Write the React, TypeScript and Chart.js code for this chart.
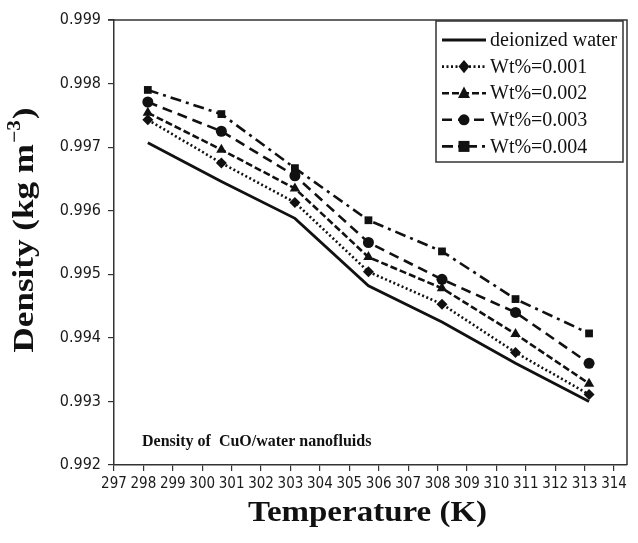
import React, { useEffect, useRef } from "react";
import { Chart, registerables } from "chart.js";

Chart.register(...registerables);

// ---- data ----
const temperatures = [298.15, 300.65, 303.15, 305.65, 308.15, 310.65, 313.15];
const deionizedWater = [0.99707, 0.99646, 0.99588, 0.99482, 0.99425, 0.9936, 0.993];
const wt001 = [0.99743, 0.99675, 0.99613, 0.99504, 0.99453, 0.99377, 0.99311];
const wt002 = [0.99754, 0.99696, 0.99635, 0.99527, 0.99478, 0.99406, 0.99328];
const wt003 = [0.99771, 0.99725, 0.99655, 0.9955, 0.99492, 0.9944, 0.9936];
const wt004 = [0.9979, 0.99752, 0.99667, 0.99585, 0.99536, 0.99461, 0.99407];
const seriesLabels = ["deionized water", "Wt%=0.001", "Wt%=0.002", "Wt%=0.003", "Wt%=0.004"];
const xTickMin = 297;
const xTickMax = 314;
const yTickMin = 0.992;
const yTickMax = 0.999;
const xTitle = "Temperature (K)";
const yTitleMain = "Density (kg m";
const yTitleSup = "\u22123";
const yTitleEnd = ")";
const annotationText = "Density of  CuO/water nanofluids";

const INK = "#111";
const AXIS = "#333";
const TICK_FONT = "'DejaVu Sans Condensed', Roboto, sans-serif";
const SERIF = "'Liberation Serif', 'Times New Roman', serif";

function drawMarker(ctx: CanvasRenderingContext2D, style: string, x: number, y: number, r: number) {
  ctx.save();
  ctx.fillStyle = INK;
  ctx.beginPath();
  if (style === "circle") {
    ctx.arc(x, y, r, 0, Math.PI * 2);
  } else if (style === "rect") {
    ctx.rect(x - r, y - r, 2 * r, 2 * r);
  } else if (style === "rectRot") {
    ctx.moveTo(x, y - r * 1.2);
    ctx.lineTo(x + r, y);
    ctx.lineTo(x, y + r * 1.2);
    ctx.lineTo(x - r, y);
    ctx.closePath();
  } else if (style === "triangle") {
    ctx.moveTo(x, y - r * 1.1);
    ctx.lineTo(x + r, y + r * 0.8);
    ctx.lineTo(x - r, y + r * 0.8);
    ctx.closePath();
  }
  if (style !== "none") ctx.fill();
  ctx.restore();
}

const framePlugin = {
  id: "frame",
  afterDraw(chart: any) {
    const { ctx, chartArea } = chart;
    const { left, right, top, bottom } = chartArea;
    ctx.save();
    ctx.strokeStyle = AXIS;
    ctx.lineWidth = 1.5;
    ctx.beginPath();
    ctx.moveTo(left - 6, top);
    ctx.lineTo(right, top);
    ctx.lineTo(right, bottom);
    ctx.stroke();

    // annotation
    ctx.fillStyle = INK;
    ctx.font = `bold 16px ${SERIF}`;
    ctx.textBaseline = "middle";
    ctx.textAlign = "left";
    ctx.fillText(annotationText, left + 28, bottom - 23);

    // x title (slightly stretched, as in the original figure)
    ctx.save();
    ctx.font = `bold 30px ${SERIF}`;
    ctx.textBaseline = "middle";
    ctx.textAlign = "center";
    ctx.translate((left + right) / 2 - 3, 513);
    ctx.scale(1.1, 1);
    ctx.fillText(xTitle, 0, 0);
    ctx.restore();

    // y title with superscript
    ctx.save();
    ctx.translate(25, 230);
    ctx.rotate(-Math.PI / 2);
    const mainFont = `bold 30px ${SERIF}`;
    const supFont = `bold 18px ${SERIF}`;
    ctx.font = mainFont;
    const w1 = ctx.measureText(yTitleMain).width;
    const w3 = ctx.measureText(yTitleEnd).width;
    ctx.font = supFont;
    const w2 = ctx.measureText(yTitleSup).width + 2;
    const total = w1 + w2 + w3;
    const sx = 245 / total;
    ctx.scale(sx, 1);
    ctx.textBaseline = "middle";
    ctx.textAlign = "left";
    let cx = -total / 2;
    ctx.font = mainFont;
    ctx.fillText(yTitleMain, cx, 0);
    cx += w1 + 1;
    ctx.font = supFont;
    ctx.fillText(yTitleSup, cx, -10);
    cx += w2 - 1;
    ctx.font = mainFont;
    ctx.fillText(yTitleEnd, cx, 0);
    ctx.restore();

    // legend
    const boxRight = right - 4;
    const boxLeft = boxRight - 187;
    const boxTop = top + 1;
    const boxH = 141;
    ctx.fillStyle = "#fff";
    ctx.fillRect(boxLeft, boxTop, boxRight - boxLeft, boxH);
    ctx.strokeStyle = AXIS;
    ctx.lineWidth = 1.5;
    ctx.strokeRect(boxLeft, boxTop, boxRight - boxLeft, boxH);

    chart.data.datasets.forEach((ds: any, i: number) => {
      const y = boxTop + 19 + i * 26.6;
      const x1 = boxLeft + 6;
      const x2 = boxLeft + 50;
      ctx.save();
      ctx.strokeStyle = INK;
      ctx.lineWidth = ds.borderWidth;
      ctx.setLineDash(ds.borderDash || []);
      ctx.beginPath();
      ctx.moveTo(x1, y);
      ctx.lineTo(x2, y);
      ctx.stroke();
      ctx.restore();
      if (ds.pointRadius > 0) drawMarker(ctx, ds.pointStyle, (x1 + x2) / 2, y, ds.pointRadius);
      ctx.fillStyle = INK;
      ctx.font = `20px ${SERIF}`;
      ctx.textBaseline = "middle";
      ctx.textAlign = "left";
      ctx.fillText(ds.label, x2 + 4, y + 1);
    });
    ctx.restore();
  },
};

function toPoints(values: number[]) {
  return values.map((v, i) => ({ x: temperatures[i], y: v }));
}

export default function App() {
  const canvasRef = useRef<HTMLCanvasElement | null>(null);

  useEffect(() => {
    if (!canvasRef.current) return;
    const seriesValues = [deionizedWater, wt001, wt002, wt003, wt004];
    const dashes = [[], [2, 2.5], [7, 3], [10, 6], [11, 5, 3, 5]];
    const styles = ["circle", "rectRot", "triangle", "circle", "rect"];
    const radii = [0, 5.5, 6, 5.5, 5.5];
    const datasets = seriesValues.map((vals, i) => ({
      label: seriesLabels[i],
      data: toPoints(vals),
      borderColor: INK,
      backgroundColor: INK,
      borderWidth: i === 0 ? 2.8 : 2.6,
      borderDash: dashes[i],
      pointStyle: styles[i],
      pointRadius: radii[i],
      pointBorderWidth: 0,
      pointBackgroundColor: INK,
      tension: 0,
      fill: false,
    }));

    const chart = new Chart(canvasRef.current, {
      type: "line",
      data: { datasets },
      options: {
        animation: false,
        responsive: false,
        layout: { padding: { left: 0, top: 20, right: 11, bottom: 0 } },
        plugins: { legend: { display: false }, tooltip: { enabled: false } },
        scales: {
          x: {
            type: "linear",
            min: xTickMin,
            max: xTickMax + 0.44,
            afterBuildTicks: (scale: any) => {
              const t = [];
              for (let v = xTickMin; v <= xTickMax; v++) t.push({ value: v });
              scale.ticks = t;
            },
            afterFit: (scale: any) => {
              scale.height = 78;
            },
            border: { display: true, color: AXIS, width: 1.5 },
            grid: { display: true, drawOnChartArea: false, drawTicks: true, tickLength: 6, color: AXIS, lineWidth: 1.2 },
            ticks: {
              color: "#1a1a1a",
              font: { family: TICK_FONT, size: 15 },
              padding: 4,
              maxRotation: 0,
              autoSkip: false,
              callback: (v: any) => String(v),
            },
            title: { display: false },
          },
          y: {
            type: "linear",
            min: yTickMin,
            max: yTickMax,
            afterBuildTicks: (scale: any) => {
              const t = [];
              for (let k = 0; k <= Math.round((yTickMax - yTickMin) * 1000); k++) t.push({ value: yTickMin + k * 0.001 });
              scale.ticks = t;
            },
            afterFit: (scale: any) => {
              scale.width = 114;
            },
            border: { display: true, color: AXIS, width: 1.5 },
            grid: { display: true, drawOnChartArea: false, drawTicks: true, tickLength: 6, color: AXIS, lineWidth: 1.2 },
            ticks: {
              color: "#1a1a1a",
              font: { family: TICK_FONT, size: 16 },
              padding: 7,
              callback: (v: any) => Number(v).toFixed(3),
            },
            title: { display: false },
          },
        },
      } as any,
      plugins: [framePlugin],
    });
    return () => chart.destroy();
  }, []);

  return (
    <div style={{ position: "absolute", left: 0, top: 0, width: 638, height: 543, background: "#fff" }}>
      <canvas ref={canvasRef} width={638} height={543} style={{ display: "block" }} />
    </div>
  );
}
